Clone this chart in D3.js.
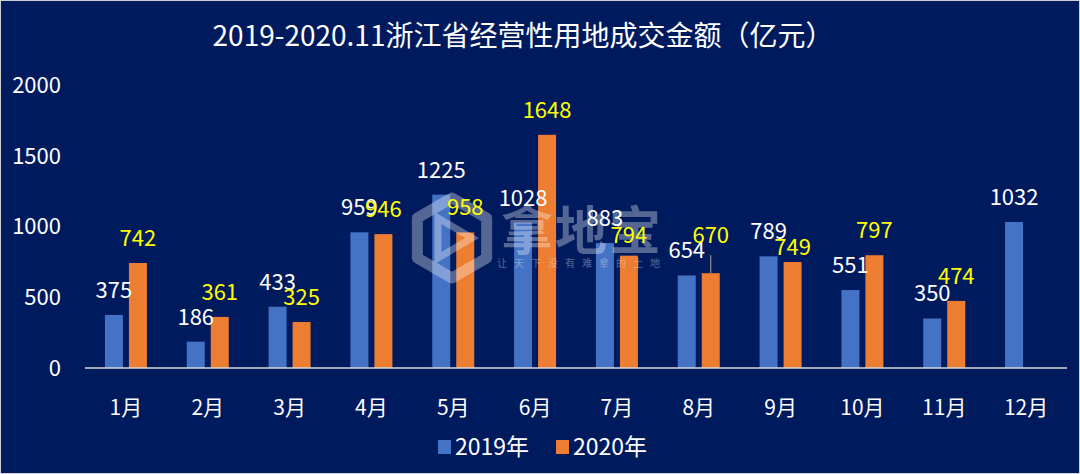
<!DOCTYPE html>
<html>
<head>
<meta charset="utf-8">
<script src="https://cdn.jsdelivr.net/npm/d3@7"></script>
<style>
  html, body { margin: 0; padding: 0; background: #001a5e; }
  svg { display: block; }
  text { font-family: "Noto Sans CJK SC", "Noto Sans", sans-serif; }
</style>
</head>
<body>
<svg id="chart" width="1080" height="474"></svg>
<script>
const title = "2019-2020.11浙江省经营性用地成交金额（亿元）";
const months = ["1月","2月","3月","4月","5月","6月","7月","8月","9月","10月","11月","12月"];
const seriesNames = ["2019年", "2020年"];
const values2019 = [375, 186, 433, 959, 1225, 1028, 883, 654, 789, 551, 350, 1032];
const values2020 = [742, 361, 325, 946, 958, 1648, 794, 670, 749, 797, 474, null];
const yTicks = [0, 500, 1000, 1500, 2000];

const W = 1080, H = 474;
const colors = ["#4472c4", "#ed7d31"];
const labelColors = ["#ffffff", "#ffff00"];

const svg = d3.select("#chart");

// background + thin border
svg.append("rect").attr("x", 0.5).attr("y", 0.5).attr("width", W - 1).attr("height", H - 1)
  .attr("fill", "#001a5e").attr("stroke", "#d0d0d0").attr("stroke-width", 1);

const plot = { left: 85, right: 1067, top: 85, bottom: 368 };

const pi = 1 - 42 / ((plot.right - plot.left) / 12);
const x0 = d3.scaleBand().domain(months).range([plot.left, plot.right])
  .paddingInner(pi).paddingOuter(pi / 2);
const x1 = d3.scaleBand().domain([0, 1]).range([0, x0.bandwidth()]).paddingInner(0.25);
const y = d3.scaleLinear().domain([0, 2000]).range([plot.bottom, plot.top]);

// title
svg.append("text").attr("x", 523).attr("y", 46).attr("text-anchor", "middle")
  .attr("fill", "#ffffff").attr("font-size", 28).text(title);

// y axis labels (no gridlines)
svg.append("g").selectAll("text").data(yTicks).join("text")
  .attr("x", 61).attr("y", d => y(d)).attr("dy", "0.36em")
  .attr("text-anchor", "end").attr("fill", "#ffffff").attr("font-size", 22)
  .text(d => d);

// data rows
const rows = months.map((m, i) => ({ m, vals: [values2019[i], values2020[i]] }));

const groups = svg.append("g").selectAll("g").data(rows).join("g")
  .attr("transform", d => `translate(${x0(d.m)},0)`);

groups.selectAll("rect")
  .data(d => d.vals.map((v, s) => ({ v, s })).filter(e => e.v != null))
  .join("rect")
  .attr("x", e => x1(e.s)).attr("width", x1.bandwidth())
  .attr("y", e => y(e.v)).attr("height", e => y(0) - y(e.v))
  .attr("fill", e => colors[e.s]);

// x axis line
svg.append("line").attr("x1", plot.left).attr("x2", plot.right)
  .attr("y1", plot.bottom).attr("y2", plot.bottom)
  .attr("stroke", "#d9d9d9").attr("stroke-width", 1.5);

// category labels
svg.append("g").selectAll("text").data(months).join("text")
  .attr("x", d => x0(d) + x0.bandwidth() / 2).attr("y", 407).attr("dy", "0.36em")
  .attr("text-anchor", "middle").attr("fill", "#ffffff").attr("font-size", 21)
  .text(d => d);

// watermark (drawn over bars, translucent)
const wm = svg.append("g").attr("opacity", 0.33).attr("fill", "#ffffff");
const hexR = 40, hcx = 452, hcy = 238;
const hex = d3.range(6).map(k => {
  const a = Math.PI / 180 * (60 * k - 90);
  return [hcx + hexR * Math.cos(a), hcy + hexR * Math.sin(a)];
});
wm.append("path").attr("d", "M" + hex.join("L") + "Z")
  .attr("fill", "none").attr("stroke", "#ffffff").attr("stroke-width", 11)
  .attr("stroke-linejoin", "round");
wm.append("path")
  .attr("d", `M${hcx - 14},${hcy - 20} L${hcx + 20},${hcy} L${hcx - 14},${hcy + 20} Z`)
  .attr("fill", "none").attr("stroke", "#ffffff").attr("stroke-width", 7);
wm.append("text").attr("x", 582).attr("y", 250).attr("text-anchor", "middle")
  .attr("font-size", 52).attr("font-weight", 700).attr("letter-spacing", 2).text("拿地宝");
wm.append("text").attr("x", 582).attr("y", 267).attr("text-anchor", "middle")
  .attr("font-size", 10).attr("letter-spacing", 7).text("让天下没有难拿的土地");

// data labels (manual nudges for a few overlapping labels)
const nudge = { "1-7": -13, "1-8": 10, "1-6": 4 };
const labels = [];
rows.forEach((r, i) => r.vals.forEach((v, s) => {
  if (v == null) return;
  const cx = x0(r.m) + x1(s) + x1.bandwidth() / 2;
  const dy = nudge[`${s}-${i}`] || 0;
  labels.push({ v, s, cx, top: y(v), base: y(v) - 17 + dy, moved: dy < -5 });
}));

svg.append("g").selectAll("line").data(labels.filter(d => d.moved)).join("line")
  .attr("x1", d => d.cx).attr("x2", d => d.cx)
  .attr("y1", d => d.base + 12).attr("y2", d => d.top)
  .attr("stroke", "#a6a6a6").attr("stroke-width", 1);

svg.append("g").selectAll("text").data(labels).join("text")
  .attr("x", d => d.cx).attr("y", d => d.base).attr("text-anchor", "middle")
  .attr("fill", d => labelColors[d.s]).attr("font-size", 22)
  .text(d => d.v);

// legend
const leg = svg.append("g");
const legItems = [{ name: seriesNames[0], x: 438 }, { name: seriesNames[1], x: 556 }];
legItems.forEach((it, s) => {
  leg.append("rect").attr("x", it.x).attr("y", 440).attr("width", 13).attr("height", 14)
    .attr("fill", colors[s]);
  leg.append("text").attr("x", it.x + 17).attr("y", 447).attr("dy", "0.36em")
    .attr("fill", "#ffffff").attr("font-size", 23).text(it.name);
});
</script>
</body>
</html>
